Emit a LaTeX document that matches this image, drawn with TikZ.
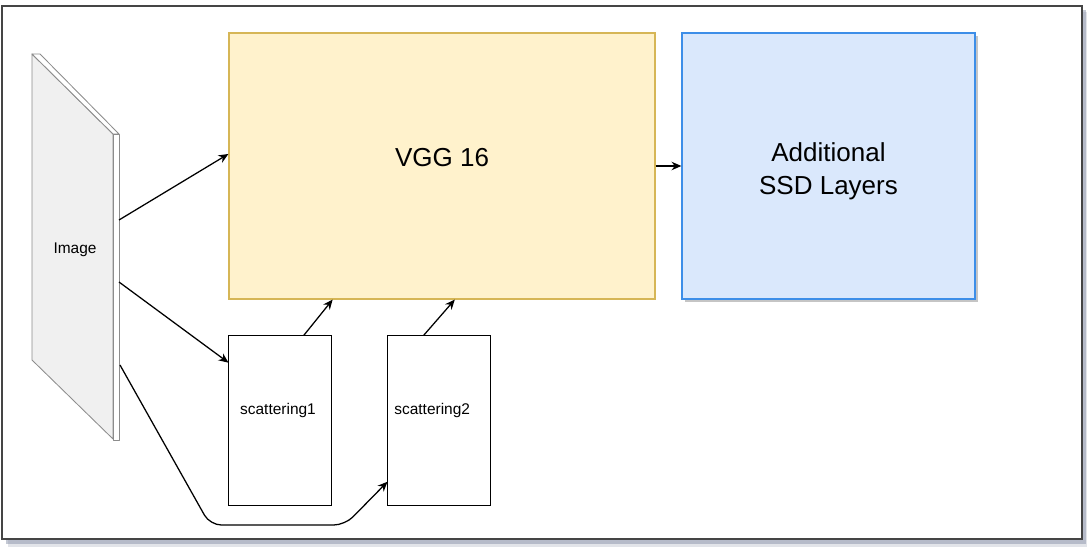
\documentclass[tikz,border=0pt]{standalone}
\usepackage{fontspec}
\setmainfont{Liberation Sans}
\usetikzlibrary{arrows.meta,calc,shadows}

\definecolor{vggfill}{HTML}{FFF2CC}
\definecolor{vggline}{HTML}{D6B656}
\definecolor{ssdfill}{HTML}{DAE8FC}
\definecolor{ssdline}{HTML}{3D8EE8}
\definecolor{slabface}{HTML}{F0F0F0}
\definecolor{slabline}{HTML}{8C8C8C}
\definecolor{framecol}{HTML}{454545}
\definecolor{shadowcol}{HTML}{8A93A9}

\tikzset{
  block/.style={draw, rectangle, inner sep=0pt, line width=0.8pt,
    font=\fontsize{18.5}{23}\selectfont, align=center},
  scat/.style={draw, rectangle, inner sep=0pt, line width=0.7pt,
    minimum width=2.55cm, minimum height=4.225cm},
  small/.style={font=\fontsize{11}{13}\selectfont},
  slab/.style={draw=slabline, line width=0.6pt, line join=round},
  link/.style={-{Stealth[length=7pt,width=6pt]}, line width=0.9pt},
}

\begin{document}
\begin{tikzpicture}[x=0.025cm, y=-0.025cm]
    \useasboundingbox (0,0) rectangle (1087,551);
    % frame with shadow
    \fill[shadowcol, opacity=0.25] (8,12) rectangle (1088,547);
    \fill[shadowcol, opacity=0.5] (6,10) rectangle (1086,544);
    \fill[white] (2,6) rectangle (1082,539);
    \draw[framecol, line width=1.4pt] (2,6) rectangle (1082,539);
    % image slab
    \filldraw[slab, fill=slabface] (32,54) -- (113,134) -- (113,439) -- (32,360) -- cycle;
    \filldraw[slab, fill=white] (32,54) -- (40,54) -- (119,134) -- (113,134) -- cycle;
    \filldraw[slab, fill=white] (113,134) rectangle (119,440);
    \node[small] (img) at (75,250) {Image};
    \coordinate (imgA) at (119,220);
    \coordinate (imgB) at (119,282);
    \coordinate (imgC) at (120,365);
    % blocks
    \node[block, fill=vggfill, draw=vggline, minimum width=10.65cm, minimum height=6.65cm,
      label={[yshift=0.2cm, font=\fontsize{18.5}{23}\selectfont]center:VGG 16}] (vgg) at (442,166) {};
    \node[block, fill=ssdfill, draw=ssdline, minimum width=7.325cm, minimum height=6.65cm,
      drop shadow={shadow xshift=0.07cm, shadow yshift=-0.07cm, fill=gray, opacity=0.45},
      label={[yshift=-0.13cm, align=center, font=\fontsize{18.5}{23}\selectfont]center:Additional\\SSD Layers}]
      (ssd) at (828.5,166) {};
    \node[scat, label={[small, yshift=0.25cm, xshift=-0.05cm]center:scattering1}] (s1) at (280,420.5) {};
    \node[scat, label={[small, yshift=0.25cm, xshift=-0.17cm]center:scattering2}] (s2) at (439,420.5) {};
    % connectors
    \draw[link] (imgA) -- ($(vgg.north west)!0.455!(vgg.south west)$);
    \draw[link] (imgB) -- ($(s1.north west)!0.16!(s1.south west)$);
    \draw[link, rounded corners=8pt] (imgC) -- (210,525) -- (345,525)
      -- ($(s2.north west)!0.86!(s2.south west)$);
    \draw[link] ($(s1.north west)!0.73!(s1.north east)$) -- ($(vgg.south west)!0.244!(vgg.south east)$);
    \draw[link] ($(s2.north west)!0.35!(s2.north east)$) -- ($(vgg.south west)!0.53!(vgg.south east)$);
    \draw[link] (vgg.east) -- (ssd.west);
\end{tikzpicture}
\end{document}
